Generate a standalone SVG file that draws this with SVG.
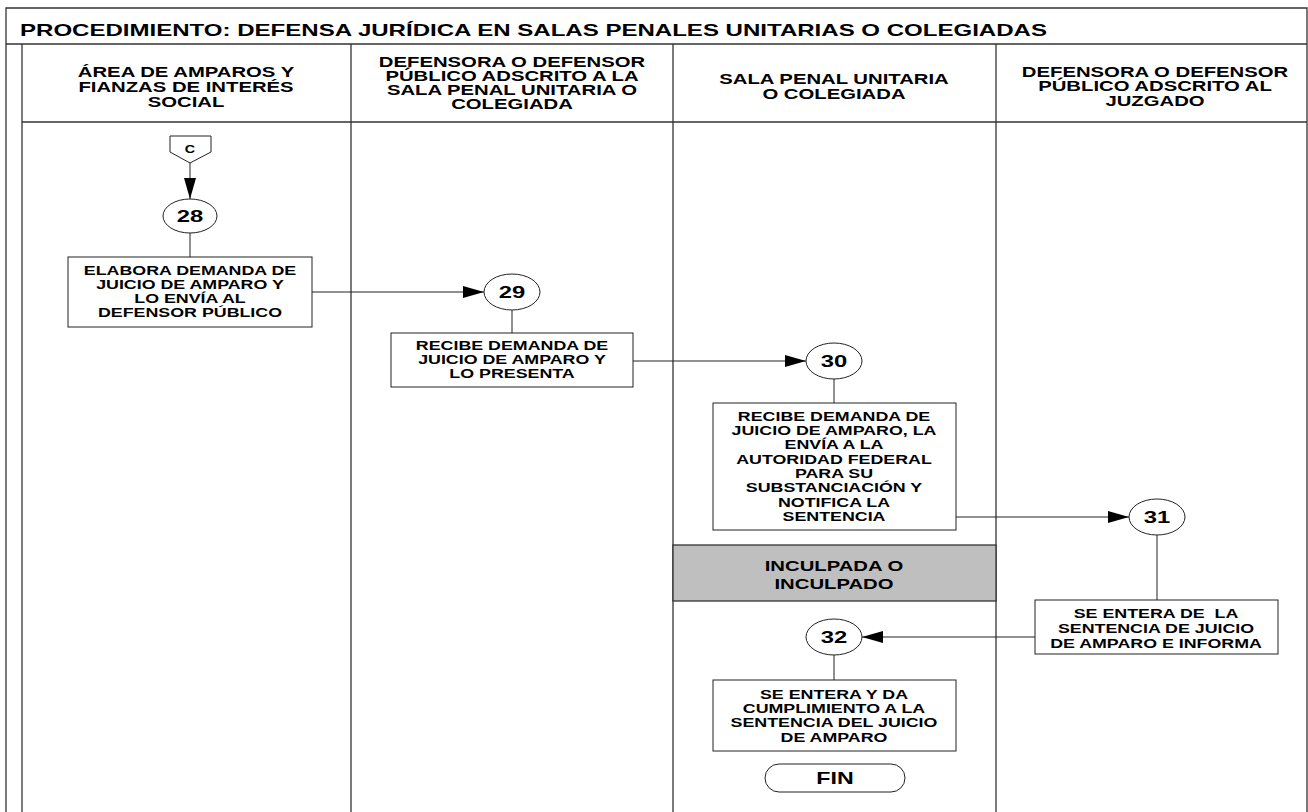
<svg xmlns="http://www.w3.org/2000/svg" width="1308" height="812" viewBox="0 0 1308 812">
<style>
text{font-family:"Liberation Sans",Arial,sans-serif;font-weight:bold;fill:#000;text-anchor:middle}
.frame{stroke:#333;stroke-width:1.3;fill:none}
.box{fill:#fff;stroke:#222;stroke-width:1}
.c{fill:#fff;stroke:#222;stroke-width:1}
.ln{stroke:#222;stroke-width:1;fill:none}
.title{font-size:16.5px;text-anchor:start}
.hd{font-size:14px}
.bx{font-size:12.3px}
.num{font-size:17px}
.pre{white-space:pre}
.band{fill:#bfbfbf;stroke:#333;stroke-width:1.3}
</style>
<defs>
<marker id="ah" markerUnits="userSpaceOnUse" markerWidth="22" markerHeight="12" refX="21" refY="6" orient="auto">
<path d="M0,0 L21,6 L0,12 Z" fill="#000"/>
</marker>
</defs>
<rect width="1308" height="812" fill="#fff"/>
<g id="frame">
<path class="frame" d="M6,812 V8 H1307 V812"/>
<line class="frame" x1="6" y1="44" x2="1307" y2="44"/>
<line class="frame" x1="22" y1="122" x2="1307" y2="122"/>
<line class="frame" x1="22" y1="44" x2="22" y2="812"/>
<line class="frame" x1="351" y1="44" x2="351" y2="812"/>
<line class="frame" x1="673" y1="44" x2="673" y2="812"/>
<line class="frame" x1="996" y1="44" x2="996" y2="812"/>
<text class="title" x="20" y="36" textLength="1027" lengthAdjust="spacingAndGlyphs">PROCEDIMIENTO: DEFENSA JURÍDICA EN SALAS PENALES UNITARIAS O COLEGIADAS</text>
</g>
<g id="lane-headers">
<g transform="translate(186 0) scale(1.45 1)"><text class="hd" y="77">ÁREA DE AMPAROS Y</text><text class="hd" y="92">FIANZAS DE INTERÉS</text><text class="hd" y="107">SOCIAL</text></g>
<g transform="translate(512 0) scale(1.45 1)"><text class="hd" y="67">DEFENSORA O DEFENSOR</text><text class="hd" y="81">PÚBLICO ADSCRITO A LA</text><text class="hd" y="95">SALA PENAL UNITARIA O</text><text class="hd" y="109">COLEGIADA</text></g>
<g transform="translate(834 0) scale(1.45 1)"><text class="hd" y="84">SALA PENAL UNITARIA</text><text class="hd" y="99">O COLEGIADA</text></g>
<g transform="translate(1155 0) scale(1.45 1)"><text class="hd" y="77">DEFENSORA O DEFENSOR</text><text class="hd" y="91">PÚBLICO ADSCRITO AL</text><text class="hd" y="106">JUZGADO</text></g>
</g>
<g id="connectors">
<line class="ln" x1="190" y1="162" x2="190" y2="199" marker-end="url(#ah)"/>
<line class="ln" x1="190" y1="233" x2="190" y2="257"/>
<line class="ln" x1="312" y1="292" x2="484" y2="292" marker-end="url(#ah)"/>
<line class="ln" x1="512" y1="310" x2="512" y2="333"/>
<line class="ln" x1="633" y1="361" x2="806" y2="361" marker-end="url(#ah)"/>
<line class="ln" x1="834" y1="379" x2="834" y2="403"/>
<line class="ln" x1="956" y1="517" x2="1129" y2="517" marker-end="url(#ah)"/>
<line class="ln" x1="1157" y1="535" x2="1157" y2="600"/>
<line class="ln" x1="1035" y1="637" x2="862" y2="637" marker-end="url(#ah)"/>
<line class="ln" x1="834" y1="655" x2="834" y2="680"/>
</g>
<g id="offpage-C">
<path class="box" d="M170,136 H211 V152 L190,163 L170,152 Z"/>
<g transform="translate(190 0) scale(1.3 1)"><text y="153" style="font-size:11px">C</text></g>
</g>
<g id="n28">
<ellipse class="c" cx="190" cy="216" rx="27" ry="17"/>
<g transform="translate(190 0) scale(1.4 1)"><text class="num" y="222">28</text></g>
</g>
<g id="b28">
<rect class="box" x="68" y="257" width="244" height="70"/>
<g transform="translate(190 0) scale(1.45 1)"><text class="bx" y="275">ELABORA DEMANDA DE</text><text class="bx" y="289">JUICIO DE AMPARO Y</text><text class="bx" y="303">LO ENVÍA AL</text><text class="bx" y="317">DEFENSOR PÚBLICO</text></g>
</g>
<g id="n29">
<ellipse class="c" cx="512" cy="292" rx="28" ry="18"/>
<g transform="translate(512 0) scale(1.4 1)"><text class="num" y="298">29</text></g>
</g>
<g id="b29">
<rect class="box" x="391" y="333" width="242" height="54"/>
<g transform="translate(512 0) scale(1.45 1)"><text class="bx" y="350">RECIBE DEMANDA DE</text><text class="bx" y="364">JUICIO DE AMPARO Y</text><text class="bx" y="378">LO PRESENTA</text></g>
</g>
<g id="n30">
<ellipse class="c" cx="834" cy="361" rx="28" ry="18"/>
<g transform="translate(834 0) scale(1.4 1)"><text class="num" y="367">30</text></g>
</g>
<g id="b30">
<rect class="box" x="713" y="403" width="243" height="127"/>
<g transform="translate(834 0) scale(1.45 1)"><text class="bx" y="421">RECIBE DEMANDA DE</text><text class="bx" y="435">JUICIO DE AMPARO, LA</text><text class="bx" y="449">ENVÍA A LA</text><text class="bx" y="464">AUTORIDAD FEDERAL</text><text class="bx" y="478">PARA SU</text><text class="bx" y="492">SUBSTANCIACIÓN Y</text><text class="bx" y="507">NOTIFICA LA</text><text class="bx" y="521">SENTENCIA</text></g>
</g>
<g id="inculpado">
<rect class="band" x="673" y="545" width="323" height="56"/>
<g transform="translate(834 0) scale(1.45 1)"><text class="hd" y="571">INCULPADA O</text><text class="hd" y="589">INCULPADO</text></g>
</g>
<g id="n31">
<ellipse class="c" cx="1157" cy="517" rx="28" ry="18"/>
<g transform="translate(1157 0) scale(1.4 1)"><text class="num" y="523">31</text></g>
</g>
<g id="b31">
<rect class="box" x="1035" y="600" width="243" height="54"/>
<g transform="translate(1156 0) scale(1.45 1)"><text class="bx pre" y="618">SE ENTERA DE  LA</text><text class="bx" y="633">SENTENCIA DE JUICIO</text><text class="bx" y="648">DE AMPARO E INFORMA</text></g>
</g>
<g id="n32">
<ellipse class="c" cx="834" cy="637" rx="28" ry="18"/>
<g transform="translate(834 0) scale(1.4 1)"><text class="num" y="643">32</text></g>
</g>
<g id="b32">
<rect class="box" x="713" y="680" width="243" height="71"/>
<g transform="translate(834 0) scale(1.45 1)"><text class="bx" y="699">SE ENTERA Y DA</text><text class="bx" y="713">CUMPLIMIENTO A LA</text><text class="bx" y="727">SENTENCIA DEL JUICIO</text><text class="bx" y="742">DE AMPARO</text></g>
</g>
<g id="fin">
<rect class="box" x="765" y="764" width="140" height="28" rx="14"/>
<g transform="translate(835 0) scale(1.45 1)"><text y="784" style="font-size:16px">FIN</text></g>
</g>
</svg>
